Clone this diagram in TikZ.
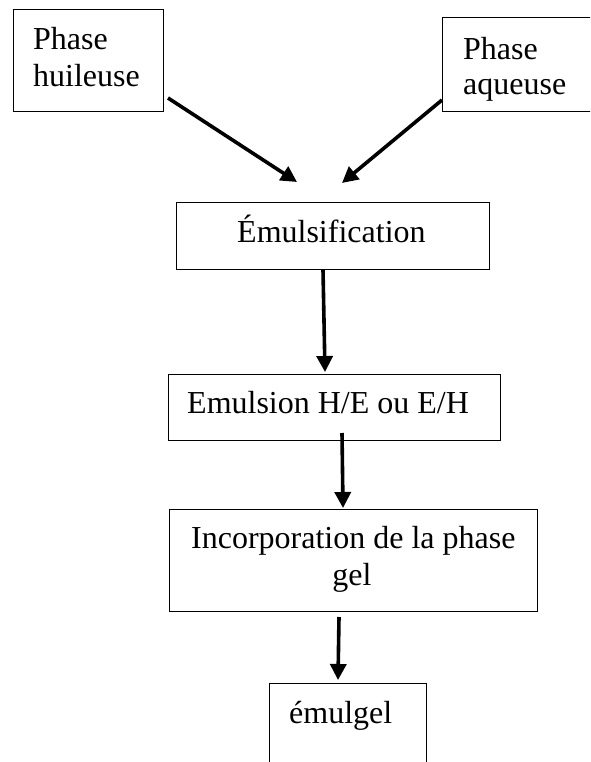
\documentclass[tikz,border=0pt]{standalone}
\usepackage{fontspec}
\setmainfont{Liberation Serif}
\usetikzlibrary{arrows.meta}
\tikzset{
  box/.style={draw=black, line width=1pt, inner sep=0pt, fill=none},
  txt/.style={anchor=base west, inner sep=0pt, font=\fontsize{32}{38}\selectfont},
  arr/.style={line width=3.6pt, -{Triangle[length=16pt,width=16pt]}}
}
\begin{document}
\begin{tikzpicture}[x=1pt,y=-1pt]
\useasboundingbox (0,0) rectangle (590,762);
\clip (0,0) rectangle (590,762);
% boxes
\node[box, minimum width=150pt, minimum height=102pt] (huile) at (88,61) {};
\node[box, minimum width=160pt, minimum height=94pt] (aqueuse) at (522,65) {};
\node[box, minimum width=313pt, minimum height=67pt] (emulsif) at (332.5,235.5) {};
\node[box, minimum width=332pt, minimum height=66pt] (emulsion) at (334,407) {};
\node[box, minimum width=368pt, minimum height=102pt] (incorp) at (353,560) {};
\node[box, minimum width=157pt, minimum height=110pt] (emulgel) at (347.5,738) {};
% texts
\node[txt] (t1a) at (33,50) {Phase};
\node[txt] (t1b) at (33,87) {huileuse};
\node[txt] (t2a) at (463,60) {Phase};
\node[txt] (t2b) at (463,95) {aqueuse};
\node[txt] (t3) at (237,242) {Émulsification};
\node[txt] (t4) at (187,413) {Emulsion H/E ou E/H};
\node[txt] (t5a) at (191,548) {Incorporation de la phase};
\node[txt, anchor=base] (t5b) at (352,585) {gel};
\node[txt] (t6) at (289,723) {émulgel};
% arrow end points
\coordinate (a1s) at (168,98);
\coordinate (a1e) at (297,182);
\coordinate (a2s) at (442,100);
\coordinate (a2e) at (342,183);
\coordinate (a3s) at (323,270);
\coordinate (a3e) at (325,372);
\coordinate (a4s) at (342,433);
\coordinate (a4e) at (343,508);
\coordinate (a5s) at (339,617);
\coordinate (a5e) at (338,680);
\draw[arr] (a1s) -- (a1e);
\draw[arr] (a2s) -- (a2e);
\draw[arr] (a3s) -- (a3e);
\draw[arr] (a4s) -- (a4e);
\draw[arr] (a5s) -- (a5e);
\end{tikzpicture}
\end{document}
